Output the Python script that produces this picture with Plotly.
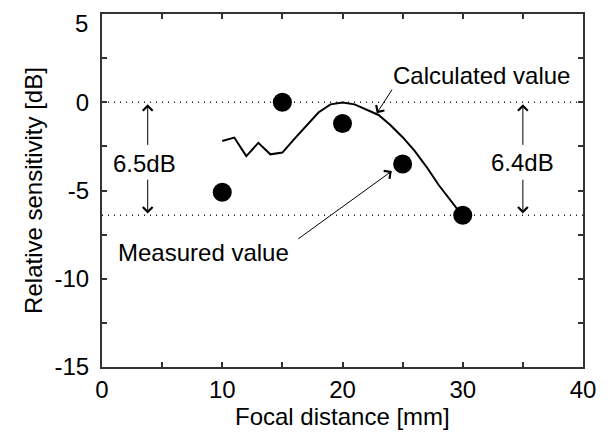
import plotly.graph_objects as go

# Calculated value (line)
calc_x = [10, 11, 12, 13, 14, 15, 16, 17, 18, 19, 20, 21, 22, 23, 24, 25, 26, 27, 28, 29, 30]
calc_y = [-2.2, -2.0, -3.05, -2.3, -2.95, -2.85, -2.08, -1.3, -0.58, -0.12, -0.02, -0.12,
          -0.41, -0.72, -1.3, -1.98, -2.75, -3.67, -4.69, -5.6, -6.45]

# Measured value (dots)
meas_x = [10, 15, 20, 25, 30]
meas_y = [-5.1, 0.0, -1.2, -3.5, -6.4]

# Reference levels (dotted)
ref_x = [0, 40]
ref_top = [0, 0]
ref_bottom = [-6.4, -6.4]

# Tick labels (top y label "5" drawn separately so it is not clipped)
x_ticks = [0, 10, 20, 30, 40]
x_labels = ["0", "10", "20", "30", "40"]
y_ticks = [5, 0, -5, -10, -15]
y_labels = ["", "0", "-5", "-10", "-15"]
y_top_label = "5"

FONT = "Arial, Liberation Sans, sans-serif"
FS = 24

fig = go.Figure()
fig.add_trace(go.Scatter(x=ref_x, y=ref_top, mode="lines",
                         line=dict(color="#222", width=1.5, dash="1px,5px"), hoverinfo="skip"))
fig.add_trace(go.Scatter(x=ref_x, y=ref_bottom, mode="lines",
                         line=dict(color="#222", width=1.5, dash="1px,5px"), hoverinfo="skip"))
fig.add_trace(go.Scatter(x=calc_x, y=calc_y, mode="lines",
                         line=dict(color="black", width=2)))
fig.add_trace(go.Scatter(x=meas_x, y=meas_y, mode="markers",
                         marker=dict(color="black", size=19)))

ann = []
def arrow(x0, y0, x1, y1):
    ann.append(dict(x=x1, y=y1, ax=x0, ay=y0, xref="x", yref="y", axref="x", ayref="y",
                    text="", showarrow=True, arrowhead=4, arrowsize=1.9, arrowwidth=1,
                    arrowcolor="black", standoff=0, startstandoff=0))

def label(x, y, t):
    ann.append(dict(x=x, y=y, xref="x", yref="y", text=t, showarrow=False,
                    font=dict(family=FONT, size=FS, color="black")))

label(31.6, 1.5, "Calculated value")
arrow(24.2, 0.8, 22.85, -0.62)
label(8.4, -8.5, "Measured value")
arrow(16.2, -7.8, 24.1, -3.9)
label(3.5, -3.45, "6.5dB")
arrow(3.8, -2.5, 3.8, -0.12)
arrow(3.8, -4.3, 3.8, -6.3)
label(35.0, -3.4, "6.4dB")
arrow(35.0, -2.5, 35.0, -0.12)
arrow(35.0, -4.3, 35.0, -6.3)

# x-axis title as paper annotation
ann.append(dict(x=0.5, y=-0.14, xref="paper", yref="paper", xanchor="center", yanchor="middle",
                text="Focal distance [mm]", showarrow=False,
                font=dict(family=FONT, size=FS, color="black")))
# top y tick label
ann.append(dict(x=0, y=1.017, xref="paper", yref="paper", xanchor="right", yanchor="top",
                xshift=-12, text=y_top_label, showarrow=False,
                font=dict(family=FONT, size=FS, color="black")))

axis_common = dict(showgrid=False, zeroline=False, showline=True, linecolor="#333",
                   linewidth=2, ticks="inside", ticklen=5, tickwidth=1.5, tickcolor="#333",
                   mirror="allticks", automargin=False, ticklabeloverflow="allow",
                   tickfont=dict(family=FONT, size=FS, color="black"))

fig.update_layout(
    width=608, height=432,
    margin=dict(l=94, r=33, t=6, b=73),
    paper_bgcolor="white", plot_bgcolor="white",
    showlegend=False,
    annotations=ann,
    xaxis=dict(range=[0, 40], tickmode="array", tickvals=x_ticks, ticktext=x_labels,
               minor=dict(dtick=5, tick0=0, ticks="inside", ticklen=5, tickcolor="#333", tickwidth=1.5),
               ticklabelstandoff=0,
               **axis_common),
    yaxis=dict(range=[-15, 5], tickmode="array", tickvals=y_ticks, ticktext=y_labels,
               minor=dict(dtick=2.5, tick0=0, ticks="inside", ticklen=5, tickcolor="#333", tickwidth=1.5),
               title=dict(text="Relative sensitivity [dB]", font=dict(family=FONT, size=FS, color="black"), standoff=5),
               ticklabelstandoff=6,
               **axis_common),
)

fig.write_html("out.html")
